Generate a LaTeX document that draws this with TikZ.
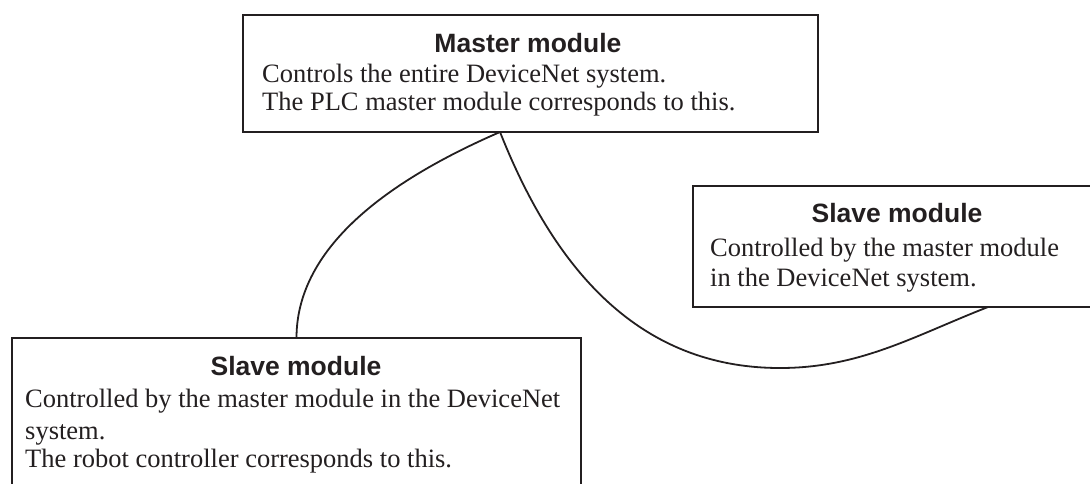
\documentclass[tikz,border=0pt]{standalone}
\usepackage{fontspec}
\setmainfont{Liberation Serif}
\newfontfamily\titlefont{Liberation Sans}
\usetikzlibrary{calc}
\definecolor{ink}{HTML}{231F20}
\begin{document}
\begin{tikzpicture}[x=1pt,y=-1pt,
  box/.style={draw=ink, line width=2pt, rectangle, inner sep=0pt, outer sep=0pt, anchor=north west},
  boxtitle/.style={font=\titlefont\bfseries\fontsize{26.5}{30}\selectfont, text=ink, anchor=base, inner sep=0pt},
  boxbody/.style={font=\fontsize{26.5}{30}\selectfont, text=ink, anchor=base west, inner sep=0pt},
  link/.style={draw=ink, line width=1.8pt}]
\useasboundingbox (0,0) rectangle (1090,483);
\clip (0,0) rectangle (1090,483);
% boxes
\node[box, minimum width=575pt, minimum height=117pt] (master) at (243,15) {};
\node[box, minimum width=408pt, minimum height=121pt] (rs) at (693,186) {};
\node[box, minimum width=569pt, minimum height=170pt] (bl) at (12,338) {};
% master texts
\node[boxtitle] (mt) at (528,52) {Master module};
\node[boxbody] (m1) at (262,82) {Controls the entire DeviceNet system.};
\node[boxbody] (m2) at (262,110) {The PLC master module corresponds to this.};
% right slave texts
\node[boxtitle] (rt) at (897,222) {Slave module};
\node[boxbody] (r1) at (710,256) {Controlled by the master module};
\node[boxbody] (r2) at (710,286) {in the DeviceNet system.};
% bottom-left slave texts
\node[boxtitle] (bt) at (296,375) {Slave module};
\node[boxbody] (b1) at (25,407) {Controlled by the master module in the DeviceNet};
\node[boxbody] (b2) at (25,439) {system.};
\node[boxbody] (b3) at (25,467) {The robot controller corresponds to this.};
% connectors
\coordinate (j) at ($(master.south west)!0.447!(master.south east)$);
\coordinate (a) at ($(bl.north west)!0.5!(bl.north east)$);
\coordinate (e) at ($(rs.south west)!0.723!(rs.south east)$);
\coordinate (low) at (780,368);
\draw[link] (j) .. controls +(-92,40) and +(0,-100) .. (a);
\draw[link] (j) .. controls +(55,139) and +(-140,0) .. (low)
                .. controls +(80,0) and +(-74,29) .. (e);
\end{tikzpicture}
\end{document}
